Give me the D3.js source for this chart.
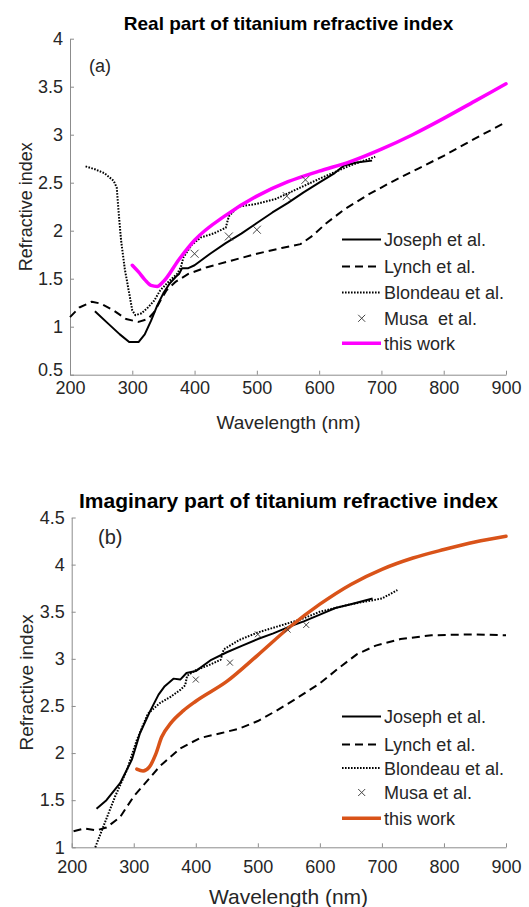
<!DOCTYPE html>
<html>
<head>
<meta charset="utf-8">
<script src="https://cdn.jsdelivr.net/npm/d3@7"></script>
<style>
  body { margin: 0; background: #fff; }
  svg { display: block; font-family: "Liberation Sans", Arial, sans-serif; }
</style>
</head>
<body>
<div id="chart"></div>
<script>
// wavelength ticks shared by both panels
const xTicks = [200, 300, 400, 500, 600, 700, 800, 900];
const realYTicks = [0.5, 1, 1.5, 2, 2.5, 3, 3.5, 4];
const imagYTicks = [1, 1.5, 2, 2.5, 3, 3.5, 4, 4.5];

const legendReal = ['Joseph et al.', 'Lynch et al.', 'Blondeau et al.', 'Musa  et al.', 'this work'];
const legendImag = ['Joseph et al.', 'Lynch et al.', 'Blondeau et al.', 'Musa et al.', 'this work'];

// (a) real part, [wavelength nm, n]
const josephReal = [[240,1.16],[260,1.04],[280,0.92],[295,0.84],[310,0.84],[320,0.92],[330,1.06],[340,1.22],[350,1.35],[360,1.45],[370,1.52],[375,1.55],[380,1.61],[390,1.61],[400,1.64],[425,1.76],[450,1.87],[475,1.97],[500,2.08],[525,2.19],[550,2.29],[575,2.40],[600,2.50],[625,2.60],[640,2.68],[660,2.71],[685,2.73]];
const lynchReal = [[200,1.10],[215,1.20],[235,1.26],[250,1.24],[270,1.17],[290,1.08],[310,1.05],[325,1.08],[335,1.15],[345,1.27],[355,1.38],[370,1.47],[390,1.55],[420,1.62],[460,1.69],[500,1.76],[540,1.82],[570,1.86],[590,1.95],[610,2.07],[640,2.22],[680,2.38],[720,2.52],[760,2.65],[800,2.78],[850,2.96],[900,3.13]];
const blondeauReal = [[225,2.67],[240,2.64],[255,2.60],[270,2.52],[275,2.45],[278,2.20],[282,1.90],[288,1.60],[295,1.35],[300,1.17],[305,1.12],[315,1.14],[325,1.20],[335,1.27],[345,1.38],[360,1.48],[372,1.55],[378,1.62],[382,1.72],[395,1.85],[410,1.93],[430,1.97],[450,2.03],[455,2.15],[470,2.25],[500,2.28],[530,2.33],[560,2.42],[600,2.54],[650,2.68],[690,2.77]];
const musaReal = [[400,1.76],[455,1.94],[500,2.01],[548,2.36],[578,2.53]];
const thisWorkReal = [[300,1.64],[310,1.57],[320,1.49],[330,1.43],[340,1.42],[350,1.47],[375,1.70],[400,1.90],[450,2.16],[500,2.36],[550,2.51],[600,2.62],[650,2.72],[700,2.85],[750,3.00],[800,3.17],[850,3.35],[900,3.53]];

// (b) imaginary part
const josephImag = [[240,1.41],[256,1.50],[278,1.68],[297,1.93],[310,2.21],[326,2.44],[340,2.62],[350,2.71],[364,2.79],[375,2.78],[385,2.85],[400,2.87],[425,2.99],[450,3.07],[475,3.14],[500,3.21],[525,3.27],[550,3.34],[575,3.40],[600,3.47],[625,3.54],[650,3.58],[685,3.64]];
const lynchImag = [[203,1.17],[220,1.20],[240,1.18],[256,1.21],[278,1.32],[300,1.54],[321,1.70],[342,1.86],[375,2.05],[407,2.16],[440,2.21],[470,2.26],[500,2.34],[530,2.45],[560,2.57],[600,2.74],[630,2.90],[660,3.05],[690,3.14],[730,3.21],[780,3.25],[850,3.26],[900,3.25]];
const blondeauImag = [[238,1.00],[251,1.22],[270,1.54],[289,1.82],[305,2.14],[323,2.42],[342,2.53],[360,2.60],[375,2.67],[383,2.72],[386,2.82],[400,2.88],[420,2.93],[440,2.99],[445,3.10],[470,3.20],[500,3.28],[540,3.36],[570,3.42],[600,3.50],[650,3.58],[700,3.64],[725,3.73]];
const musaImag = [[400,2.78],[455,2.96],[500,3.26],[548,3.31],[578,3.36]];
const thisWorkImag = [[305,1.83],[315,1.81],[325,1.85],[335,1.98],[345,2.17],[360,2.32],[380,2.45],[400,2.55],[450,2.76],[500,3.04],[550,3.33],[600,3.58],[650,3.79],[700,3.95],[750,4.07],[800,4.16],[850,4.24],[900,4.30]];

const width = 529;
const height = 907;
const textColor = '#262626';
const axisColor = '#8c8c8c';

const svg = d3.select('#chart')
    .append('svg')
    .attr('width', width)
    .attr('height', height);

function drawPanel(p) {
    const x = d3.scaleLinear().domain([200, 900]).range([p.left, 506]);
    const y = d3.scaleLinear().domain(p.yDomain).range([p.bottom, p.top]);
    const g = svg.append('g');

    // axes, MATLAB style with inward ticks
    const xAxis = g.append('g')
        .attr('transform', `translate(0,${p.bottom})`)
        .call(d3.axisBottom(x).tickValues(xTicks).tickSizeInner(-4).tickSizeOuter(0).tickFormat(d => String(d)));
    xAxis.selectAll('text')
        .attr('y', p.xTickBaseline - p.bottom)
        .attr('dy', null)
        .attr('fill', textColor)
        .attr('font-size', 18);

    const yAxis = g.append('g')
        .attr('transform', `translate(${p.left},0)`)
        .call(d3.axisLeft(y).tickValues(p.yTicks).tickSizeInner(-4).tickSizeOuter(0).tickFormat(d => String(d)));
    yAxis.selectAll('text')
        .attr('x', -7)
        .attr('fill', textColor)
        .attr('font-size', 18)
        .attr('dy', d => d === p.yDomain[0] ? p.firstTickDy : '0.32em');

    g.selectAll('.domain, .tick line').attr('stroke', axisColor);
    g.selectAll('.tick text').attr('font-family', '"Liberation Sans", Arial, sans-serif');

    const line = d3.line().x(d => x(d[0])).y(d => y(d[1]));
    const smooth = d3.line().x(d => x(d[0])).y(d => y(d[1])).curve(d3.curveMonotoneX);

    const styles = [
        { dash: null, w: 2 },
        { dash: '8,5', w: 2 },
        { dash: '1.6,1.4', w: 2 }
    ];

    [p.joseph, p.lynch, p.blondeau].forEach((data, i) => {
        g.append('path')
            .datum(data)
            .attr('d', line)
            .attr('fill', 'none')
            .attr('stroke', '#000')
            .attr('stroke-width', styles[i].w)
            .attr('stroke-dasharray', styles[i].dash)
            .attr('stroke-linejoin', 'round');
    });

    g.append('path')
        .datum(p.thisWork)
        .attr('d', smooth)
        .attr('fill', 'none')
        .attr('stroke', p.color)
        .attr('stroke-width', 3.5)
        .attr('stroke-linecap', 'round');

    const cross = (sel, s) => {
        sel.append('path')
            .attr('d', `M${-s},${-s}L${s},${s}M${-s},${s}L${s},${-s}`)
            .attr('stroke', '#444')
            .attr('stroke-width', 1)
            .attr('fill', 'none');
    };

    g.selectAll('.musa')
        .data(p.musa)
        .enter()
        .append('g')
        .attr('class', 'musa')
        .attr('transform', d => `translate(${x(d[0])},${y(d[1])})`)
        .call(cross, p.markerSize);

    // legend
    const leg = g.append('g');
    p.legend.forEach((label, i) => {
        const ly = p.legendY[i];
        if (i === 3) {
            leg.append('g').attr('transform', `translate(361.7,${ly})`).call(cross, 3.5);
        } else {
            leg.append('line')
                .attr('x1', 342).attr('x2', 381)
                .attr('y1', ly).attr('y2', ly)
                .attr('stroke', i === 4 ? p.color : '#000')
                .attr('stroke-width', i === 4 ? 3.5 : 2)
                .attr('stroke-dasharray', i < 3 ? styles[i].dash : null);
        }
        leg.append('text')
            .attr('x', 384)
            .attr('y', ly + 6.5)
            .attr('font-size', 18)
            .attr('fill', textColor)
            .style('white-space', 'pre')
            .text(label);
    });

    // titles and labels
    g.append('text')
        .attr('x', 288.5).attr('y', p.titleY)
        .attr('text-anchor', 'middle')
        .attr('font-weight', 'bold')
        .attr('font-size', p.titleSize)
        .attr('fill', '#000')
        .text(p.title);

    g.append('text')
        .attr('x', p.tagX).attr('y', p.tagY)
        .attr('font-size', p.tagSize)
        .attr('fill', textColor)
        .text(p.tag);

    g.append('text')
        .attr('x', 288.5).attr('y', p.xLabelY)
        .attr('text-anchor', 'middle')
        .attr('font-size', p.labelSize)
        .attr('fill', textColor)
        .text('Wavelength (nm)');

    g.append('text')
        .attr('transform', `translate(${p.yLabelX},${(p.top + p.bottom) / 2}) rotate(-90)`)
        .attr('text-anchor', 'middle')
        .attr('font-size', p.yLabelSize)
        .attr('fill', textColor)
        .text('Refractive index');
}

drawPanel({
    left: 70, top: 38.7, bottom: 374.7,
    yDomain: [0.5, 4], yTicks: realYTicks, firstTickDy: '0.05em',
    xTickBaseline: 394.5,
    joseph: josephReal, lynch: lynchReal, blondeau: blondeauReal,
    musa: musaReal, thisWork: thisWorkReal,
    color: '#ff00ff', markerSize: 4,
    legend: legendReal, legendY: [239.5, 266.5, 292.5, 318.3, 343.3],
    title: 'Real part of titanium refractive index', titleY: 29.5, titleSize: 19,
    tag: '(a)', tagX: 89, tagY: 71.5, tagSize: 18,
    xLabelY: 428.5, labelSize: 19,
    yLabelX: 31.5, yLabelSize: 18
});

drawPanel({
    left: 71.7, top: 517.5, bottom: 847.3,
    yDomain: [1, 4.5], yTicks: imagYTicks, firstTickDy: '0.32em',
    xTickBaseline: 873.3,
    joseph: josephImag, lynch: lynchImag, blondeau: blondeauImag,
    musa: musaImag, thisWork: thisWorkImag,
    color: '#d95319', markerSize: 3,
    legend: legendImag, legendY: [716.5, 744.5, 768, 792.5, 818.3],
    title: 'Imaginary part of titanium refractive index', titleY: 508, titleSize: 21,
    tag: '(b)', tagX: 98, tagY: 544, tagSize: 20,
    xLabelY: 904, labelSize: 21,
    yLabelX: 33, yLabelSize: 19
});
</script>
</body>
</html>
